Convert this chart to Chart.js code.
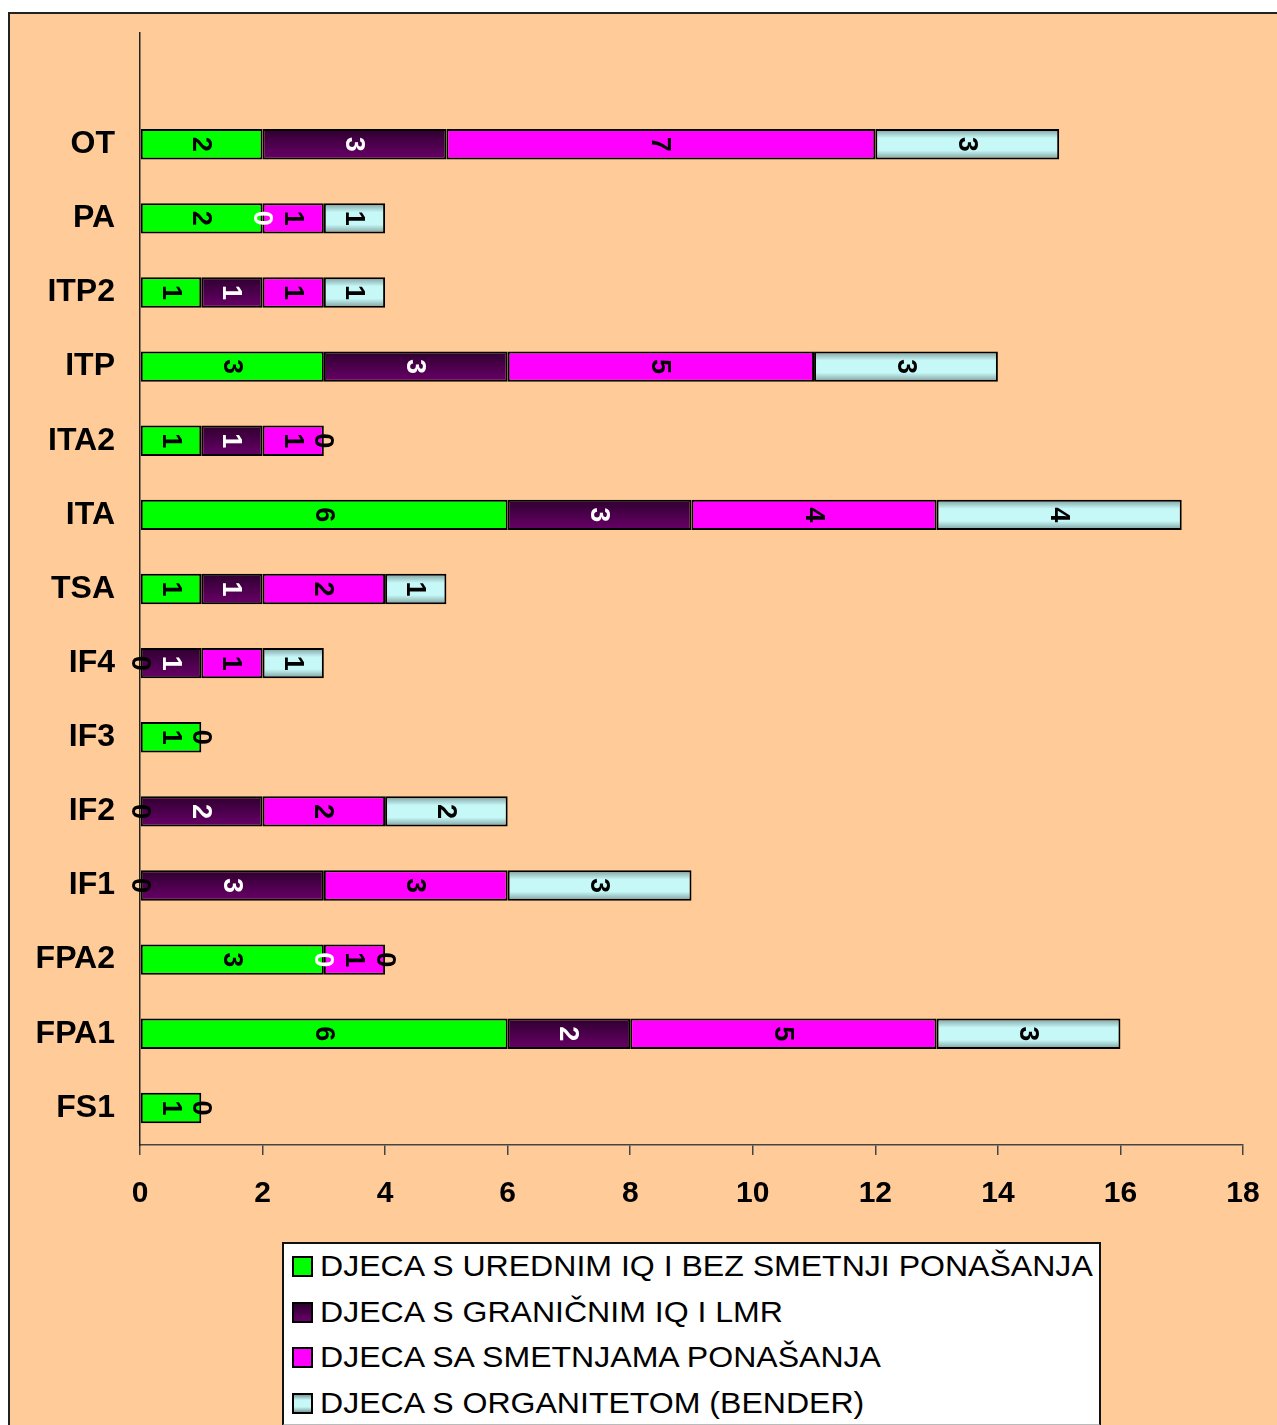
<!DOCTYPE html>
<html>
<head>
<meta charset="utf-8">
<script src="https://cdn.jsdelivr.net/npm/chart.js@4/dist/chart.umd.min.js"></script>
<style>
  html, body { margin: 0; padding: 0; background: #fff; }
  body { width: 1277px; height: 1425px; position: relative; overflow: hidden; font-family: "Liberation Sans", Arial, sans-serif; }
  #frame { position: absolute; left: 8px; top: 12px; width: 1290px; height: 1430px; background: #FFCC99; border-left: 2px solid #222; border-top: 2px solid #222; }
  #wrap { position: absolute; left: 0; top: 0; width: 1277px; height: 1425px; }
  #legend { position: absolute; left: 282px; top: 1242px; width: 815px; height: 180px; background: #fff; border: 2px solid #111; border-bottom-color: #bbb; }
  #legend .row { position: absolute; left: 0; height: 45px; line-height: 45px; font-size: 29px; color: #000; white-space: nowrap; }
  #legend .box { position: absolute; left: 8px; top: 12px; width: 17px; height: 17px; border: 2px solid #000; }
  #legend .txt { position: absolute; left: 36px; top: 0; transform: scaleX(1.105); transform-origin: 0 50%; }
</style>
</head>
<body>
<div id="frame"></div>
<div id="wrap"><canvas id="chart" width="1277" height="1425"></canvas></div>
<div id="legend"></div>
<script>
// categories from top to bottom (first one is the empty top slot)
const categories = ['', 'OT', 'PA', 'ITP2', 'ITP', 'ITA2', 'ITA', 'TSA', 'IF4', 'IF3', 'IF2', 'IF1', 'FPA2', 'FPA1', 'FS1'];

const seriesNames = [
    'DJECA S UREDNIM IQ I BEZ SMETNJI PONAŠANJA',
    'DJECA S GRANIČNIM IQ I LMR',
    'DJECA SA SMETNJAMA PONAŠANJA',
    'DJECA S ORGANITETOM (BENDER)'
];

const uredni    = [null, 2, 2, 1, 3, 1, 6, 1, 0, 1, 0, 0, 3, 6, 1];
const granicni  = [null, 3, 0, 1, 3, 1, 3, 1, 1, null, 2, 3, 0, 2, null];
const smetnje   = [null, 7, 1, 1, 5, 1, 4, 2, 1, 0, 2, 3, 1, 5, 0];
const organitet = [null, 3, 1, 1, 3, 0, 4, 1, 1, null, 2, 3, 0, 3, null];

const xTicks = [0, 2, 4, 6, 8, 10, 12, 14, 16, 18];

const FONT = '"Liberation Sans", Arial, sans-serif';
const BAR_PCT = 0.41;

// vertical gradient across each bar, falls back to a flat colour before layout
function barGradient(stops, flat) {
    return function (ctx) {
        const chart = ctx.chart;
        const y = chart.scales && chart.scales.y;
        if (!chart.chartArea || !y || ctx.dataIndex === undefined) return flat;
        const band = (y.bottom - y.top) / categories.length;
        const c = y.getPixelForValue(ctx.dataIndex);
        const h = band * BAR_PCT / 2;
        const g = chart.ctx.createLinearGradient(0, c - h, 0, c + h);
        stops.forEach(s => g.addColorStop(s[0], s[1]));
        return g;
    };
}

const purpleStops = [[0, '#2e002e'], [1, '#690069']];
const cyanStops = [[0, '#7c9c9c'], [0.3, '#c6f8f8'], [0.7, '#c6f8f8'], [1, '#7c9c9c']];

const datasets = [
    { label: seriesNames[0], data: uredni, backgroundColor: '#00FF00', labelColor: '#000' },
    { label: seriesNames[1], data: granicni, backgroundColor: barGradient(purpleStops, '#4a004a'), labelColor: '#fff' },
    { label: seriesNames[2], data: smetnje, backgroundColor: '#FF00FF', labelColor: '#000' },
    { label: seriesNames[3], data: organitet, backgroundColor: barGradient(cyanStops, '#b0e0e0'), labelColor: '#000' }
].map(d => Object.assign(d, {
    borderColor: '#000',
    borderWidth: 2,
    borderSkipped: false,
    barPercentage: BAR_PCT,
    categoryPercentage: 1
}));

// value labels, rotated a quarter turn, centred on each segment
const valueLabels = {
    id: 'valueLabels',
    afterDatasetsDraw(chart) {
        const ctx = chart.ctx;
        ctx.save();
        ctx.font = 'bold 27px ' + FONT;
        ctx.textAlign = 'center';
        ctx.textBaseline = 'middle';
        chart.data.datasets.forEach((ds, i) => {
            const meta = chart.getDatasetMeta(i);
            meta.data.forEach((el, j) => {
                const v = ds.data[j];
                if (v === null || v === undefined) return;
                const cx = (el.x + el.base) / 2;
                ctx.save();
                ctx.translate(cx, el.y);
                ctx.rotate(Math.PI / 2);
                ctx.fillStyle = ds.labelColor;
                ctx.fillText(String(v), 0, 1);
                ctx.restore();
            });
        });
        ctx.restore();
    }
};

// keep tick labels from pushing the plot area inwards
function noOverflow(scale) {
    scale.paddingTop = 0;
    scale.paddingBottom = 0;
    scale.paddingLeft = 0;
    scale.paddingRight = 0;
}

new Chart(document.getElementById('chart'), {
    type: 'bar',
    data: { labels: categories, datasets: datasets },
    options: {
        indexAxis: 'y',
        responsive: false,
        animation: false,
        layout: { padding: { top: 33, right: 34, bottom: 200, left: 0 } },
        plugins: {
            legend: { display: false },
            tooltip: { enabled: false }
        },
        scales: {
            x: {
                stacked: true,
                min: 0,
                max: 18,
                afterBuildTicks: scale => { scale.ticks = xTicks.map(v => ({ value: v })); },
                afterFit: scale => { scale.height = 80; noOverflow(scale); },
                ticks: { color: '#000', font: { family: FONT, size: 30, weight: 'bold' }, padding: 21, maxRotation: 0 },
                grid: { drawOnChartArea: false, drawTicks: true, tickLength: 10, color: '#444', lineWidth: 1.5 },
                border: { color: '#444', width: 1.5 }
            },
            y: {
                stacked: true,
                afterFit: scale => { scale.width = 140; noOverflow(scale); },
                ticks: { color: '#000', font: { family: FONT, size: 32, weight: 'bold' }, padding: 17, autoSkip: false },
                grid: { display: false },
                border: { color: '#222', width: 1.5 }
            }
        }
    },
    plugins: [valueLabels]
});

// legend box underneath
const legendSwatches = [
    '#00FF00',
    'linear-gradient(#2e002e, #690069)',
    '#FF00FF',
    'linear-gradient(#7c9c9c, #c6f8f8 30%, #c6f8f8 70%, #7c9c9c)'
];
const legendEl = document.getElementById('legend');
seriesNames.forEach((name, i) => {
    const row = document.createElement('div');
    row.className = 'row';
    row.style.top = (i * 45.5) + 'px';
    const box = document.createElement('div');
    box.className = 'box';
    box.style.background = legendSwatches[i];
    const txt = document.createElement('div');
    txt.className = 'txt';
    txt.textContent = name;
    row.appendChild(box);
    row.appendChild(txt);
    legendEl.appendChild(row);
});
</script>
</body>
</html>
